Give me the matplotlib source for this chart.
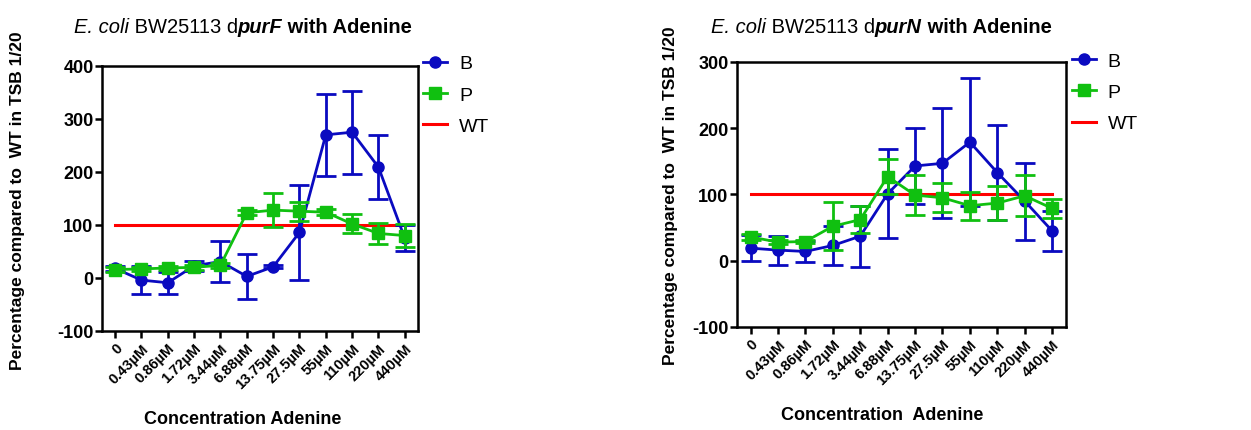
import matplotlib.pyplot as plt
from matplotlib.lines import Line2D
import numpy as np

plt.rcParams['axes.unicode_minus'] = False

# ---------------- DATA ----------------
conc = ['0', '0.43µM', '0.86µM', '1.72µM', '3.44µM', '6.88µM', '13.75µM',
        '27.5µM', '55µM', '110µM', '220µM', '440µM']

purF_B = [18, -4, -9, 23, 31, 3, 21, 86, 270, 275, 209, 75]
purF_B_err = [5, 27, 21, 9, 38, 43, 3, 90, 77, 78, 60, 25]
purF_P = [16, 17, 19, 20, 24, 123, 128, 126, 124, 102, 84, 80]
purF_P_err = [5, 4, 4, 4, 5, 5, 32, 18, 6, 18, 20, 22]

purN_B = [19, 16, 14, 23, 37, 101, 143, 147, 179, 133, 90, 45]
purN_B_err = [20, 22, 16, 29, 46, 67, 57, 83, 97, 72, 58, 30]
purN_P = [36, 28, 29, 52, 62, 127, 99, 95, 83, 87, 98, 79]
purN_P_err = [5, 3, 3, 36, 20, 27, 30, 22, 21, 26, 31, 14]

wt = [100] * len(conc)

BLUE = '#0A0AC0'
GREEN = '#10C010'
RED = '#FF0000'
FONT = ['Liberation Sans', 'DejaVu Sans']

fig = plt.figure(figsize=(12.51, 4.31), dpi=100)


def draw_title(ax, cx, y, gene):
    parts = [("E. coli", 'italic', 'normal'),
             (" BW25113 d", 'normal', 'normal'),
             (gene, 'italic', 'bold'),
             (" with Adenine", 'normal', 'bold')]
    texts = []
    for s, style, weight in parts:
        if not texts:
            t = fig.text(cx, y, s, style=style, weight=weight, fontsize=14.5,
                         family=FONT, va='baseline')
        else:
            t = ax.annotate(s, xy=(1, 0), xycoords=texts[-1], style=style,
                            weight=weight, fontsize=14.5, family=FONT,
                            va='bottom', ha='left', annotation_clip=False)
        texts.append(t)
    # center the whole title on cx
    fig.canvas.draw()
    r = fig.canvas.get_renderer()
    x0 = texts[0].get_window_extent(r).x0
    x1 = texts[-1].get_window_extent(r).x1
    width = (x1 - x0) / fig.bbox.width
    texts[0].set_x(cx - width / 2)


def make_panel(rect, b, b_err, p, p_err, ylim, yticks, leg_anchor):
    ax = fig.add_axes(rect)
    x = np.arange(len(conc))
    ax.plot(x, wt, color=RED, lw=2.2, zorder=2)
    ax.errorbar(x, b, yerr=b_err, color=BLUE, lw=2, marker='o', ms=8,
                capsize=7, capthick=2, elinewidth=2, zorder=3)
    ax.errorbar(x, p, yerr=p_err, color=GREEN, lw=2, marker='s', ms=8,
                capsize=7, capthick=2, elinewidth=2, zorder=4)
    ax.set_xlim(-0.5, len(conc) - 0.5)
    ax.set_ylim(*ylim)
    ax.set_yticks(yticks)
    ax.set_xticks(x)
    ax.set_xticklabels(conc, rotation=45, ha='right', rotation_mode='anchor',
                       fontsize=10.5, fontweight='bold', family=FONT)
    for lab in ax.get_yticklabels():
        lab.set_fontsize(13)
        lab.set_fontweight('bold')
        lab.set_family(FONT)
    for sp in ax.spines.values():
        sp.set_linewidth(1.8)
    ax.tick_params(axis='both', direction='out', width=1.8, length=5, pad=2)
    ax.tick_params(axis='y', pad=1)
    handles = [Line2D([], [], color=BLUE, lw=2, marker='o', ms=8),
               Line2D([], [], color=GREEN, lw=2, marker='s', ms=8),
               Line2D([], [], color=RED, lw=2.2)]
    ax.legend(handles, ['B', 'P', 'WT'], loc='upper left',
              bbox_to_anchor=leg_anchor, frameon=False,
              prop={'family': FONT, 'size': 14}, handlelength=1.25,
              handletextpad=0.6, labelspacing=0.7, borderpad=0,
              borderaxespad=0)
    return ax


ax1 = make_panel([0.0815, 0.2297, 0.2526, 0.615], purF_B, purF_B_err,
                 purF_P, purF_P_err, (-100, 400), [-100, 0, 100, 200, 300, 400],
                 (1.016, 1.042))
ax2 = make_panel([0.589, 0.239, 0.263, 0.615], purN_B, purN_B_err,
                 purN_P, purN_P_err, (-100, 300), [-100, 0, 100, 200, 300],
                 (1.018, 1.036))

fig.text(0.194, 0.026, 'Concentration Adenine', fontsize=13,
         fontweight='bold', family=FONT, ha='center', va='center')
fig.text(0.705, 0.037, 'Concentration  Adenine', fontsize=13,
         fontweight='bold', family=FONT, ha='center', va='center')

ylab = 'Percentage compared to  WT in TSB 1/20'
fig.text(0.008, 0.534, ylab, rotation=90, fontsize=12.5, fontweight='bold',
         family=FONT, va='center', ha='left')
fig.text(0.530, 0.545, ylab, rotation=90, fontsize=12.5, fontweight='bold',
         family=FONT, va='center', ha='left')

draw_title(ax1, 243 / 1251, 0.923, 'purF')
draw_title(ax2, 881 / 1251, 0.923, 'purN')

fig.savefig('out.png', dpi=100)
